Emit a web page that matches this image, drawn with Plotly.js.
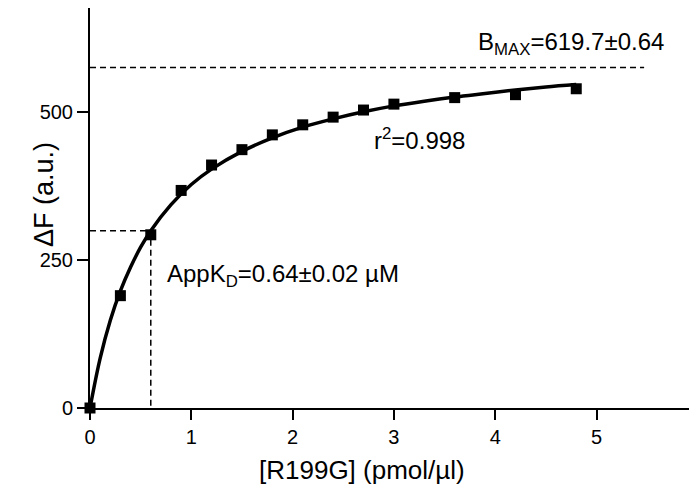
<!DOCTYPE html>
<html>
<head>
<meta charset="utf-8">
<script src="https://cdn.plot.ly/plotly-3.0.1.min.js"></script>
<style>html,body{margin:0;padding:0;background:#fff;}#chart{width:689px;height:495px;}</style>
</head>
<body>
<div id="chart"></div>
<script>
// Measured points
const concX = [0, 0.3, 0.6, 0.9, 1.2, 1.5, 1.8, 2.1, 2.4, 2.7, 3.0, 3.6, 4.2, 4.8];
const deltaF = [0, 190, 293, 368, 411, 437, 462, 479, 492, 504, 514, 525, 530, 540];
// Fitted curve
const fitX = [0, 0.1, 0.2, 0.3, 0.4, 0.5, 0.6, 0.8, 1.0, 1.2, 1.5, 1.8, 2.1, 2.4, 2.7, 3.0, 3.3, 3.6, 3.9, 4.2, 4.5, 4.8];
const fitY = [0, 84, 148, 198, 238, 272, 300, 344, 378, 404, 434, 457, 475, 489, 501, 511, 519, 526, 532, 538, 543, 547];
// Reference lines
const kdX = [0, 0.6, 0.6];
const kdY = [300, 300, 0];
const bmaxX = [0, 5.47];
const bmaxY = [576, 576];
// Ticks and labels
const xTicks = [0, 1, 2, 3, 4, 5];
const yTicks = [0, 250, 500];
const xTitle = "[R199G] (pmol/µl)";
const yTitle = "ΔF (a.u.)";
const bmaxLabel = "B<sub>MAX</sub>=619.7±0.64";
const r2Label = "r<sup>2</sup>=0.998";
const kdLabel = "AppK<sub>D</sub>=0.64±0.02 µM";

const FONT = "Liberation Sans, Arial, sans-serif";
const dashStyle = "6px,4px";

const traces = [
  {x: kdX, y: kdY, mode: "lines", line: {color: "#000", width: 1.5, dash: dashStyle}, hoverinfo: "skip", cliponaxis: false},
  {x: bmaxX, y: bmaxY, mode: "lines", line: {color: "#000", width: 1.5, dash: dashStyle}, hoverinfo: "skip", cliponaxis: false},
  {x: fitX, y: fitY, mode: "lines", line: {color: "#000", width: 3.5, shape: "spline"}, cliponaxis: false},
  {x: concX, y: deltaF, mode: "markers", marker: {symbol: "square", size: 11, color: "#000"}, cliponaxis: false}
];

const pw = 689 - 90 - 0, ph = 495 - 8 - 87;

const layout = {
  width: 689, height: 495,
  margin: {l: 90, r: 0, t: 8, b: 87},
  paper_bgcolor: "#fff", plot_bgcolor: "#fff",
  showlegend: false,
  font: {family: FONT, color: "#000", size: 19},
  xaxis: {
    range: [0, 5.913], tickvals: xTicks, ticktext: xTicks.map(String),
    showline: true, linecolor: "#000", linewidth: 2,
    ticks: "outside", ticklen: 10, tickwidth: 2, tickcolor: "#000",
    showgrid: false, zeroline: false, tickfont: {size: 20, family: FONT}
  },
  yaxis: {
    range: [0, 676.6], tickvals: yTicks, ticktext: yTicks.map(String),
    showline: true, linecolor: "#000", linewidth: 2,
    ticks: "outside", ticklen: 11, tickwidth: 2, tickcolor: "#000",
    showgrid: false, zeroline: false, tickfont: {size: 20, family: FONT}
  },
  annotations: [
    {text: bmaxLabel, x: 3.81, y: 616, xref: "x", yref: "y", xanchor: "left", yanchor: "middle", showarrow: false, font: {size: 24, family: FONT}},
    {text: r2Label, x: 2.78, y: 455, xref: "x", yref: "y", xanchor: "left", yanchor: "middle", showarrow: false, font: {size: 24, family: FONT}},
    {text: kdLabel, x: 0.745, y: 224, xref: "x", yref: "y", xanchor: "left", yanchor: "middle", showarrow: false, font: {size: 24, family: FONT}},
    {text: xTitle, x: (362 - 90) / pw, y: (408 - 470) / ph, xref: "paper", yref: "paper", yanchor: "middle", showarrow: false, font: {size: 26, family: FONT}},
    {text: yTitle, x: (27 - 90) / pw, y: (408 - 195) / ph, xref: "paper", yref: "paper", showarrow: false, textangle: -90, font: {size: 27, family: FONT}}
  ]
};

Plotly.newPlot("chart", traces, layout, {displayModeBar: false});
</script>
</body>
</html>
